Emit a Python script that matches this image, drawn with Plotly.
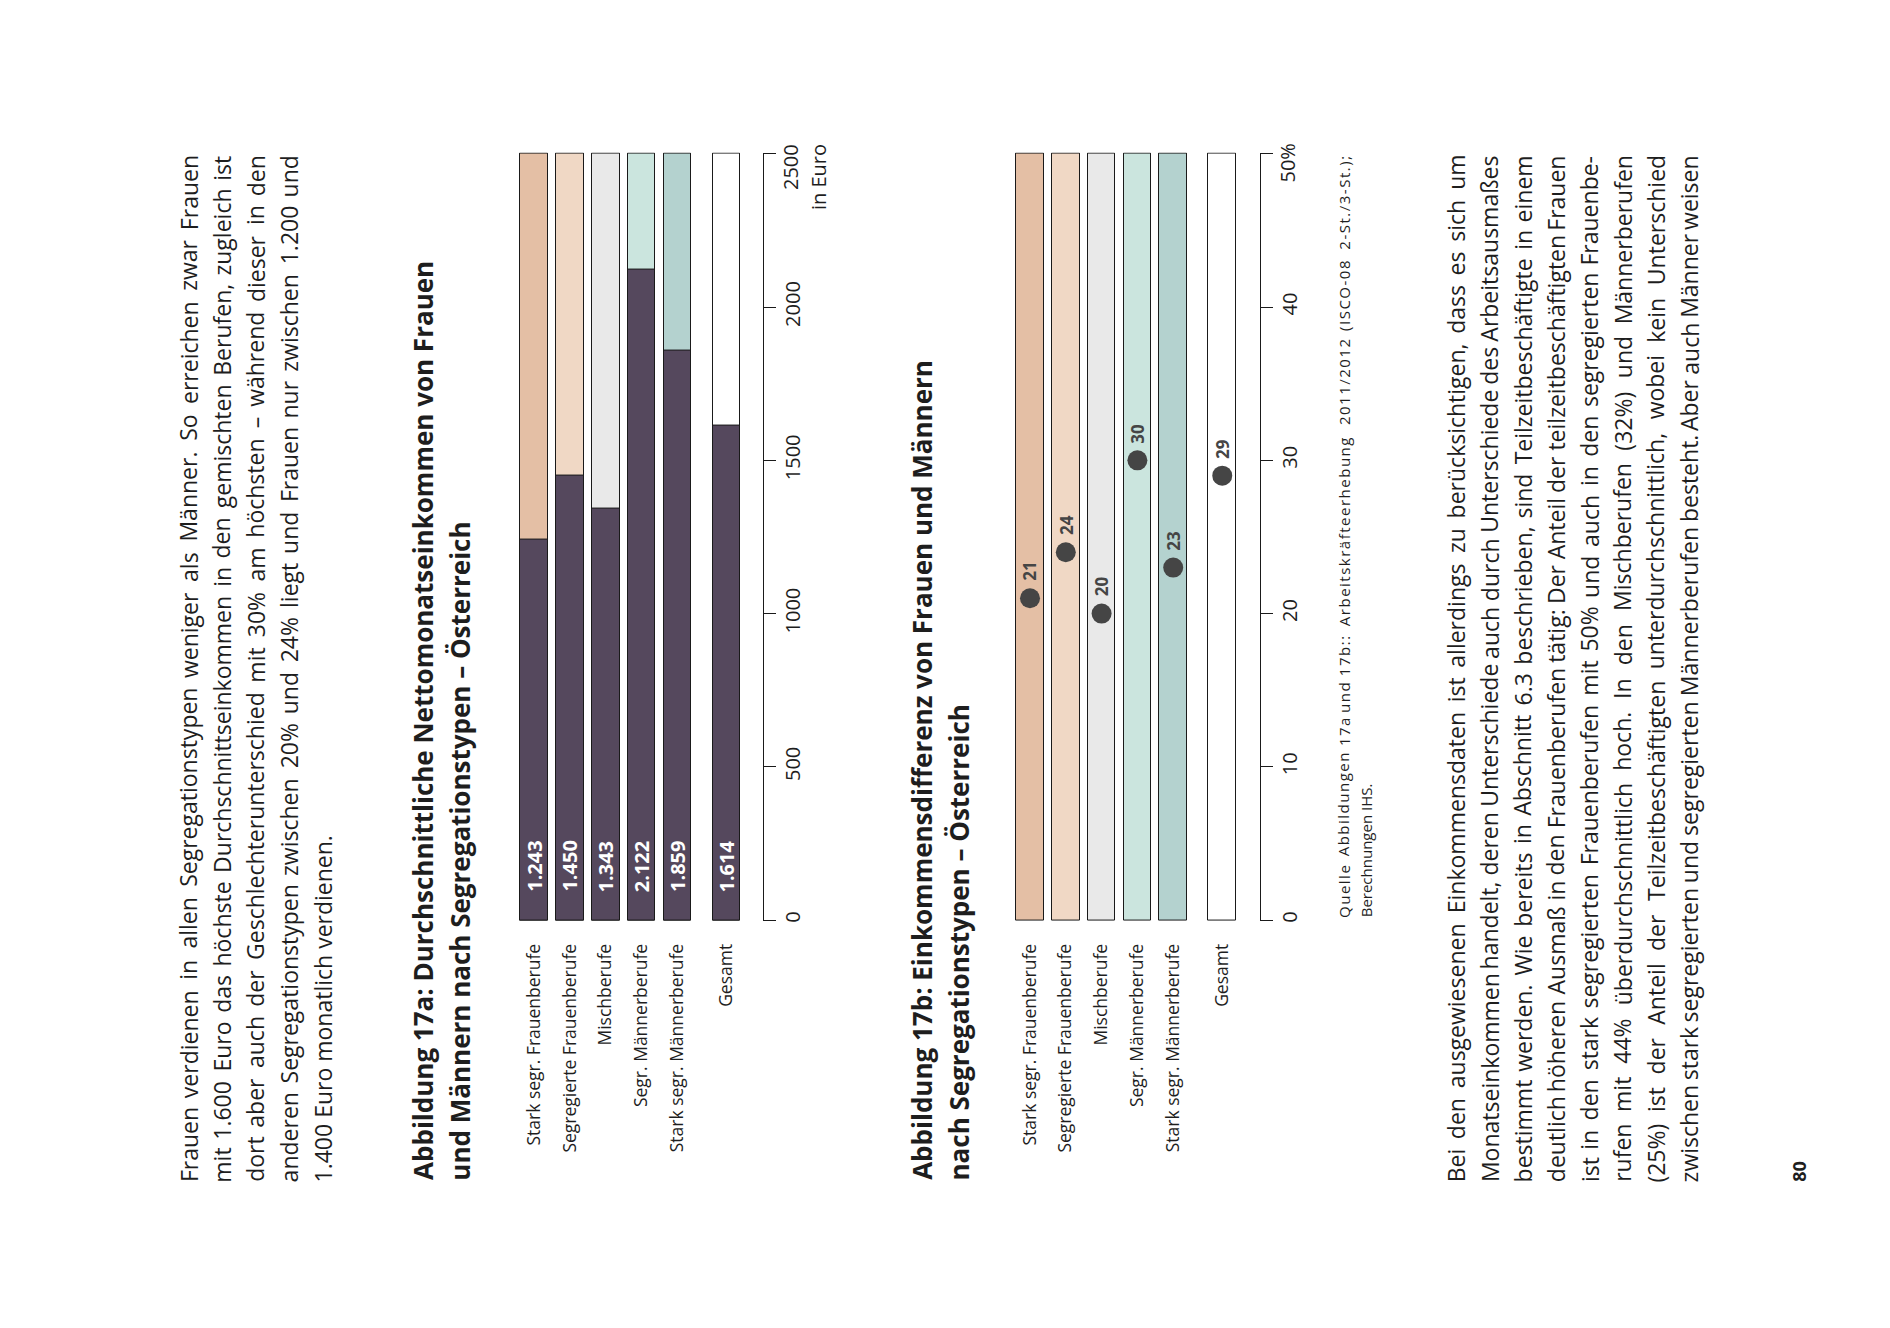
import plotly.graph_objects as go

W, H = 1890, 1328

# ---------------- data ----------------
categories = ["Stark segr. Frauenberufe", "Segregierte Frauenberufe", "Mischberufe",
              "Segr. Männerberufe", "Stark segr. Männerberufe", "Gesamt"]
einkommen_frauen = [1243, 1450, 1343, 2122, 1859, 1614]      # Euro
einkommen_ticks = [0, 500, 1000, 1500, 2000, 2500]
differenz = [21, 24, 20, 30, 23, 29]                         # %
differenz_ticks = [0, 10, 20, 30, 40, 50]

title_a = ["Abbildung 17a: Durchschnittliche Nettomonatseinkommen von Frauen",
           "und Männern nach Segregationstypen – Österreich"]
title_b = ["Abbildung 17b: Einkommensdifferenz von Frauen und Männern",
           "nach Segregationstypen – Österreich"]
para1 = ["Frauen verdienen in allen Segregationstypen weniger als Männer. So erreichen zwar Frauen",
         "mit 1.600 Euro das höchste Durchschnittseinkommen in den gemischten Berufen, zugleich ist",
         "dort aber auch der Geschlechterunterschied mit 30% am höchsten – während dieser in den",
         "anderen Segregationstypen zwischen 20% und 24% liegt und Frauen nur zwischen 1.200 und",
         "1.400 Euro monatlich verdienen."]
para2 = ["Bei den ausgewiesenen Einkommensdaten ist allerdings zu berücksichtigen, dass es sich um",
         "Monatseinkommen handelt, deren Unterschiede auch durch Unterschiede des Arbeitsausmaßes",
         "bestimmt werden. Wie bereits in Abschnitt 6.3 beschrieben, sind Teilzeitbeschäftigte in einem",
         "deutlich höheren Ausmaß in den Frauenberufen tätig: Der Anteil der teilzeitbeschäftigten Frauen",
         "ist in den stark segregierten Frauenberufen mit 50% und auch in den segregierten Frauenbe-",
         "rufen mit 44% überdurchschnittlich hoch. In den Mischberufen (32%) und Männerberufen",
         "(25%) ist der Anteil der Teilzeitbeschäftigten unterdurchschnittlich, wobei kein Unterschied",
         "zwischen stark segregierten und segregierten Männerberufen besteht. Aber auch Männer weisen"]
source = ["Quelle Abbildungen 17a und 17b:: Arbeitskräfteerhebung 2011/2012 (ISCO-08 2-St./3-St.);",
          "Berechnungen IHS."]
page_no = "80"

# ---------------- style ----------------
FONT = "Open Sans"
TXT = "#1e1e1e"
DARK = "#55485d"
DOT = "#454545"
OUTLINE = "#1a1a1a"
bar_colors = ["#e4bfa5", "#f0d8c5", "#e9e9e9", "#cbe5de", "#b4d2cf", "#ffffff"]
slot = [0, 1, 2, 3, 4, 5.37]
PITCH = 35.8
BAR_W = 0.77
BASE_OFF = 0.388
HAIR = "\u200a"

def X(px):
    return px / W

def Y(py):
    return 1 - py / H

REG = {' ': .26, '!': .267, '%': .823, '(': .296, ')': .296, ',': .245, '-': .322, '.': .266,
       '/': .367, ':': .266, ';': .266, '–': .5, HAIR: .14,
       'A': .633, 'B': .648, 'C': .631, 'D': .729, 'E': .556, 'F': .516, 'G': .728, 'H': .738,
       'I': .279, 'J': .267, 'K': .614, 'L': .519, 'M': .903, 'N': .754, 'O': .779, 'P': .602,
       'Q': .779, 'R': .618, 'S': .539, 'T': .543, 'U': .741, 'V': .578, 'W': .913, 'X': .586,
       'Y': .548, 'Z': .559, 'Ä': .633, 'Ö': .779, 'Ü': .741,
       'a': .556, 'b': .613, 'c': .476, 'd': .613, 'e': .561, 'f': .339, 'g': .548, 'h': .614,
       'i': .253, 'j': .253, 'k': .525, 'l': .253, 'm': .930, 'n': .614, 'o': .604, 'p': .613,
       'q': .613, 'r': .408, 's': .477, 't': .353, 'u': .614, 'v': .501, 'w': .778, 'x': .524,
       'y': .502, 'z': .477, 'ä': .556, 'ö': .604, 'ü': .614, 'ß': .664}
for d in "0123456789":
    REG[d] = .572

def text_w(s, fs):
    return sum(REG.get(ch, .55) for ch in s) * fs

annotations = []

def ann(text, cx, py, ya, fs, color=TXT):
    annotations.append(dict(text=text, x=X(cx), y=Y(py), xref="paper", yref="paper",
                            xanchor="center", yanchor=ya, textangle=-90, showarrow=False,
                            borderpad=0, font=dict(family=FONT, size=fs, color=color)))

def add_line(text, base_px, fs, y_start, y_end=None, color=TXT, spaced=False):
    cx = base_px - BASE_OFF * fs
    words = text.split(" ")
    if spaced:
        words = [HAIR.join(list(w)) for w in words]
    if y_end is None or len(words) == 1:
        ann(" ".join(words), cx, y_start, "bottom", fs, color)
        return
    widths = [text_w(w, fs) for w in words]
    gap = ((y_start - y_end) - sum(widths)) / (len(words) - 1)
    pos = y_start
    for i, (w, wd) in enumerate(zip(words, widths)):
        if i == 0:
            ann(w, cx, y_start, "bottom", fs, color)
        elif i == len(words) - 1:
            ann(w, cx, y_end, "top", fs, color)
        else:
            ann(w, cx, pos - wd / 2, "middle", fs, color)
        pos -= wd + gap

TOP = 154.5
# paragraph 1
for i, line in enumerate(para1):
    add_line(line, 197.3 + 33.6 * i, 23, 1185, None if i == len(para1) - 1 else TOP)
# paragraph 2
for i, line in enumerate(para2):
    add_line(line, 1465 + 33.3 * i, 23, 1185, TOP)
# titles
for i, line in enumerate(title_a):
    add_line("<b>" + line + "</b>", 433.3 + 36.7 * i, 26, 1183)
for i, line in enumerate(title_b):
    add_line("<b>" + line + "</b>", 932.7 + 36.7 * i, 26, 1183)
# source
add_line(source[0], 1349.7, 15, 920, 155, spaced=True)
add_line(source[1], 1371.5, 15, 920)
# page number
add_line("<b>" + page_no + "</b>", 1806, 18, 1185)

# ---------------- figure ----------------
fig = go.Figure()

# chart a
fig.add_trace(go.Bar(x=slot, y=[einkommen_ticks[-1]] * len(slot), width=BAR_W,
                     marker=dict(color=bar_colors, line=dict(color=OUTLINE, width=1)),
                     xaxis="x", yaxis="y", hoverinfo="skip", showlegend=False))
fig.add_trace(go.Bar(x=slot, y=einkommen_frauen, width=BAR_W,
                     marker=dict(color=DARK, line=dict(color=OUTLINE, width=1)),
                     xaxis="x", yaxis="y", showlegend=False))
# chart b
fig.add_trace(go.Bar(x=slot, y=[differenz_ticks[-1]] * len(slot), width=BAR_W,
                     marker=dict(color=bar_colors, line=dict(color=OUTLINE, width=1)),
                     xaxis="x2", yaxis="y2", hoverinfo="skip", showlegend=False))
fig.add_trace(go.Scatter(x=slot, y=differenz, mode="markers",
                         marker=dict(size=20, color=DOT),
                         xaxis="x2", yaxis="y2", showlegend=False))

# value labels
for s, v in zip(slot, einkommen_frauen):
    annotations.append(dict(text="<b>" + f"{v:,}".replace(",", ".") + "</b>", x=s, y=0,
                            xref="x", yref="y", xanchor="center", yanchor="bottom", yshift=27,
                            textangle=-90, showarrow=False, borderpad=0,
                            font=dict(family=FONT, size=20, color="white")))
for s, v in zip(slot, differenz):
    annotations.append(dict(text="<b>" + str(v) + "</b>", x=s, y=v,
                            xref="x2", yref="y2", xanchor="center", yanchor="bottom", yshift=16,
                            textangle=-90, showarrow=False, borderpad=0,
                            font=dict(family=FONT, size=17, color=DOT)))

# top tick labels with units
ann(str(einkommen_ticks[-1]), 799 - BASE_OFF * 20, 143, "top", 20)
ann("in Euro", 827 - BASE_OFF * 20, 143, "top", 20)
ann(f"{differenz_ticks[-1]}%", 1295 - BASE_OFF * 20, 143, "top", 20)

Y0, Y1 = 921.5, 154.0
PAD = 1.2

def xaxis(c0, left, right, anchor):
    return dict(domain=[X(left), X(right)], range=[(left - c0) / PITCH, (right - c0) / PITCH],
                anchor=anchor, showgrid=False, zeroline=False, showline=False, ticks="",
                tickvals=slot, ticktext=categories, tickangle=-90, ticklabelstandoff=18,
                tickfont=dict(family=FONT, size=17.5, color=TXT), fixedrange=True)

def yaxis(ticks, anchor):
    vmax = ticks[-1]
    scale = (Y0 - Y1) / vmax
    return dict(domain=[Y(Y0 + PAD), Y(Y1 - PAD)], range=[-PAD / scale, vmax + PAD / scale],
                anchor=anchor, side="right", showgrid=False, zeroline=False,
                showline=True, linecolor=OUTLINE, linewidth=1,
                ticks="outside", ticklen=12, tickwidth=1, tickcolor=OUTLINE,
                tickvals=ticks, ticktext=[str(t) for t in ticks[:-1]] + [""],
                tickangle=-90, tickfont=dict(family=FONT, size=20, color=TXT), fixedrange=True)

fig.update_layout(
    width=W, height=H, autosize=False,
    margin=dict(l=0, r=0, t=0, b=0, pad=0),
    paper_bgcolor="white", plot_bgcolor="white",
    barmode="overlay", bargap=0,
    xaxis=xaxis(534.2, 505, 763.3, "y"),
    yaxis=yaxis(einkommen_ticks, "x"),
    xaxis2=xaxis(1030.0, 1000, 1259.7, "y2"),
    yaxis2=yaxis(differenz_ticks, "x2"),
    annotations=annotations,
    font=dict(family=FONT, color=TXT),
)

fig.write_html("out.html", config={"displayModeBar": False},
               post_script="document.body.style.margin='0';document.body.style.overflow='hidden';")
